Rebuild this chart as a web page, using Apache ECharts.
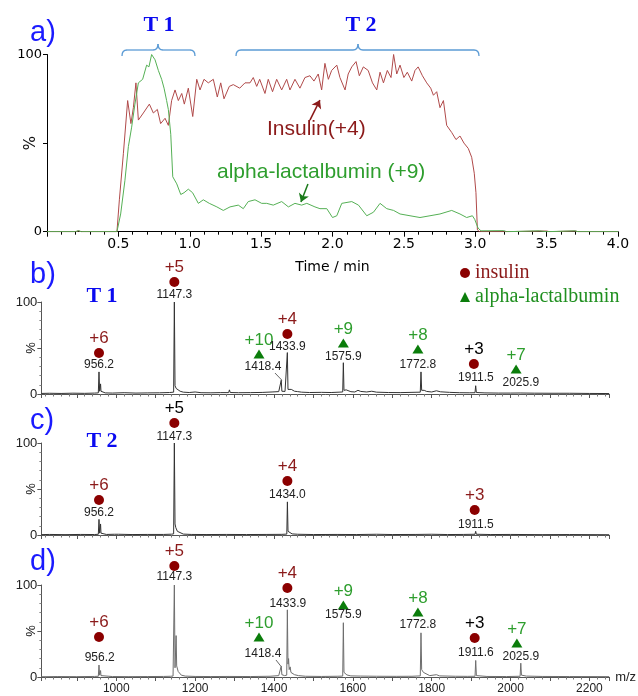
<!DOCTYPE html>
<html>
<head>
<meta charset="utf-8">
<script src="https://cdn.jsdelivr.net/npm/echarts@6.0.0/dist/echarts.min.js"></script>
<style>
html, body { margin: 0; padding: 0; background: #fff; }
#main { width: 638px; height: 696px; }
</style>
</head>
<body>
<div id="main"></div>
<script>
// a) extracted ion chromatograms, [time (min), %]
var insulinTrace = [[0,0],[0.1,0],[0.2,0],[0.22,0.5],[0.24,0],[0.3,0],[0.4,0],[0.49,0],
	[0.507,18],[0.535,44],[0.565,74],[0.588,61],[0.605,70],[0.623,84],[0.64,63],[0.675,67],[0.717,72],[0.745,67],
	[0.773,69],[0.796,61],[0.827,64],[0.85,60],[0.873,74],[0.897,80],[0.92,74],[0.944,78],[0.962,72],[0.99,81],
	[1.021,65],[1.049,86],[1.072,80],[1.1,86],[1.13,84],[1.165,86],[1.193,76],[1.217,84],[1.24,75],[1.277,82],
	[1.305,83],[1.35,81],[1.387,84],[1.422,84],[1.445,87],[1.469,82],[1.49,86],[1.527,78],[1.55,86],[1.58,79],
	[1.609,86],[1.644,80],[1.679,86],[1.702,80],[1.737,86],[1.772,81],[1.807,87],[1.842,88],[1.87,85],[1.9,89],
	[1.924,80],[1.947,95],[1.971,86],[1.994,91],[2.03,94],[2.052,87],[2.088,80],[2.11,89],[2.135,93],[2.165,96],
	[2.188,88],[2.216,93],[2.25,91],[2.28,84],[2.31,80],[2.333,90],[2.357,84],[2.384,91],[2.41,87],[2.428,100],
	[2.45,89],[2.473,94],[2.5,87],[2.524,90],[2.555,85],[2.578,91],[2.6,93],[2.63,88],[2.66,84],[2.688,81],
	[2.707,77],[2.73,79],[2.753,70],[2.777,74],[2.8,60],[2.835,56],[2.865,52],[2.893,54],[2.921,50],[2.951,47],
	[2.975,42],[2.993,33],[3.005,22],[3.015,1],[3.03,0],[3.2,0],[3.5,0.4],[3.52,0],[3.7,0.4],[3.72,0],[4.0,0]];
var lactalbuminTrace = [[0,0],[0.2,0],[0.22,0.6],[0.24,0],[0.49,0],[0.516,10],[0.546,29],[0.57,48],[0.593,59],
	[0.616,72],[0.64,84],[0.67,86],[0.698,94],[0.714,93],[0.733,100],[0.757,97],[0.78,91],[0.803,86],[0.82,81],
	[0.838,74],[0.85,69],[0.867,55],[0.881,31],[0.909,27],[0.937,21],[0.96,22],[0.99,24],[1.02,22],[1.06,16],
	[1.095,18],[1.137,16],[1.19,14],[1.235,12],[1.282,14],[1.34,15],[1.375,13],[1.41,17],[1.457,18],[1.504,16],
	[1.539,16],[1.585,15],[1.644,17],[1.691,14],[1.737,16],[1.784,15],[1.82,16],[1.877,14],[1.912,13],[1.96,13],
	[2.0,8],[2.03,9],[2.065,16],[2.135,17],[2.182,15],[2.24,9],[2.287,11],[2.333,16],[2.38,13],[2.428,12],
	[2.473,10],[2.543,9],[2.613,8],[2.683,9],[2.753,10],[2.835,12],[2.893,10],[2.94,8],[2.98,9],[2.996,7],
	[3.02,2],[3.04,0.5],[3.2,0.6],[3.22,0],[3.45,0.5],[3.5,0],[3.7,0.5],[3.72,0],[4,0]];
var arrowInsulin = [[1.842,63],[1.912,74.3]];
var arrowLact = [[1.828,26.9],[1.779,16.8]];

// b) c) d) mass spectra, [m/z, %]
var specT1 = [[810,0.6],[830,0.8],[860,0.6],[890,0.9],[920,0.7],[945,1.0],
	[954.5,1.2],[956.2,24],[957.8,3],[959.4,2.5],[960.2,11],[961.2,3],[965,2],[972,1.2],
	[990,1.0],[1020,1.4],[1050,1.0],[1080,1.2],[1110,1.3],[1135,1.6],
	[1145.5,2],[1147.3,100],[1149,9],[1152,6],[1156,4],[1162,3],[1170,2],[1185,1.6],
	[1200,2.2],[1215,1.4],[1240,1.3],[1265,1.5],[1285,1.5],[1287,4.5],[1289,1.6],[1310,1.4],[1340,1.5],[1370,1.7],[1395,2.2],
	[1412,2.6],[1416.8,3],[1418.4,15],[1420,3],[1428,2.8],
	[1432.3,3],[1433.9,45],[1435.5,5],[1437,6],[1440,4.5],[1444,5],[1447,3.5],[1452,3],[1460,2.6],[1470,2],
	[1490,1.6],[1520,1.8],[1545,1.6],[1565,2],
	[1574.3,2.2],[1575.9,34],[1577.5,4],[1580,3.5],[1583,4.5],[1587,3],[1595,2.5],
	[1605,2.2],[1613,4],[1620,2.8],[1635,2.2],[1648,3],[1660,2],[1690,1.6],[1720,1.5],[1750,1.8],
	[1771,2],[1772.8,24],[1774.5,4],[1777,3.5],[1781,4],[1787,2.8],[1800,2.2],[1812,3.5],[1822,2.4],[1845,1.8],[1870,1.4],[1895,1.3],
	[1909.8,1.4],[1911.5,9],[1913.2,1.6],[1935,1.2],[1970,1.0],[2000,1.0],
	[2024.2,1.1],[2025.9,2.5],[2027.6,1.2],[2060,0.9],[2100,0.8],[2150,0.8],[2200,0.6],[2250,0.5]];
var specT2 = [[810,0.4],[830,0.6],[870,0.4],[910,0.6],[945,0.5],
	[954.5,0.8],[956.2,17],[957.8,2],[959.4,1.5],[960.2,12],[961.2,2],[965,1],[975,0.6],
	[995,0.8],[1000,1.8],[1006,0.8],[1040,0.5],[1080,0.6],[1120,0.6],[1140,0.9],
	[1145.5,1.2],[1147.3,100],[1149,12],[1151,8],[1155,4],[1160,2],[1170,1],[1190,0.6],
	[1230,0.5],[1280,0.6],[1330,0.5],[1380,0.6],[1420,0.7],
	[1432.5,1],[1434.0,36],[1435.6,4],[1437,5],[1440,2.5],[1446,1.2],[1460,0.8],
	[1500,0.5],[1560,0.6],[1610,0.5],[1660,0.8],[1700,0.5],[1760,0.6],[1800,0.8],[1840,0.5],[1880,0.6],
	[1909.8,0.8],[1911.5,4],[1913.2,0.8],[1950,0.5],[2000,0.6],[2080,0.4],[2150,0.5],[2250,0.3]];
var specAll = [[810,0.3],[850,0.5],[900,0.4],[945,0.6],
	[954.5,0.8],[956.2,13],[957.8,2],[959.4,1.5],[960.2,7],[961.2,1.5],[966,0.8],[990,0.5],
	[1030,0.4],[1080,0.5],[1120,0.6],[1138,0.8],[1142,1.8],[1144,1],
	[1145.6,1.2],[1147.3,100],[1149,10],[1150.5,8],[1151.8,45],[1153.2,12],[1155.5,14],[1157,6],[1160,4],[1165,2],[1175,1],[1200,0.6],
	[1240,0.5],[1286,0.6],[1288,2],[1290,0.6],[1340,0.5],[1390,0.8],[1412,1.5],
	[1416.8,2],[1418.4,12],[1420,2.5],[1427,1.5],
	[1432.3,2],[1433.9,73],[1435.5,14],[1437,20],[1438.5,8],[1441,11],[1443,5],[1447,4],[1452,2.5],[1462,1.5],[1480,0.8],
	[1520,0.6],[1560,0.8],[1574.3,1],[1575.9,59],[1577.5,5],[1580,4],[1585,2.2],[1595,1.2],[1620,1],[1660,0.8],[1710,0.7],[1750,0.8],
	[1771,1.2],[1772.8,48],[1774.5,8],[1777,9],[1779,5],[1784,3],[1795,1.5],[1812,2.5],[1820,1.2],[1860,0.8],[1890,0.7],
	[1909.9,0.8],[1911.6,18],[1913.3,1.5],[1916,1.2],[1940,0.6],[1990,0.5],
	[2024.2,0.8],[2025.9,15],[2027.6,2],[2031,2.2],[2040,1],[2080,0.6],[2150,0.5],[2250,0.4]];

// peak annotations: [m/z, %, text]
var insulinT1 = [[956.2,44.6,'+6'],[1147.3,121.7,'+5'],[1433.9,65.2,'+4'],[1907,32.6,'+3']];
var lactT1 = [[1362,43.5,'+10'],[1575.9,55.4,'+9'],[1765,48.9,'+8'],[2014,27.2,'+7']];
var massT1 = [[956.2,31.5,'956.2'],[1147.3,107.6,'1147.3'],[1372,29.3,'1418.4'],[1433.9,51.1,'1433.9'],
	[1575.9,40.2,'1575.9'],[1765,31.5,'1772.8'],[1912,17.4,'1911.5'],[2026,12,'2025.9']];
var insulinT2 = [[956.2,38,'+6'],[1147.3,121.7,'+5'],[1434.0,58.7,'+4'],[1909,27.2,'+3']];
var massT2 = [[956.2,23.9,'956.2'],[1147.3,106.5,'1147.3'],[1434.0,43.5,'1434.0'],[1912,10.9,'1911.5']];
var insulinAll = [[956.2,43.5,'+6'],[1147.3,120.7,'+5'],[1433.9,96.7,'+4'],[1909,42.4,'+3']];
var lactAll = [[1362,43.5,'+10'],[1575.9,78.3,'+9'],[1765,70.7,'+8'],[2016,37,'+7']];
var massAll = [[958,20.7,'956.2'],[1147.3,108.7,'1147.3'],[1372,25,'1418.4'],[1435,79.3,'1433.9'],
	[1575.9,67.4,'1575.9'],[1765,56.5,'1772.8'],[1912,26.1,'1911.6'],[2026,21.7,'2025.9']];
var leaderT1 = [[1402.5,22.8],[1420,15]];
var leaderAll = [[1405,18.5],[1417,12]];

var SANS = '"Liberation Sans", Arial, sans-serif';
var DEJAVU = '"DejaVu Sans", sans-serif';
var SERIF = '"Liberation Serif", "Times New Roman", serif';
var RED = '#8b1a1a', GREEN = '#2e9e2e';
// charge states printed in black in each panel
var neutralCharge = { T1: '+3', T2: '+5', All: '+3' };

function specGrid(top) {
	return { left: 41.35, top: top, width: 567.8, height: 92, outerBoundsMode: 'none' };
}

function specX(i, labels) {
	return {
		gridIndex: i, type: 'value', min: 810, max: 2250, splitNumber: 14,
		name: labels ? 'm/z' : '', nameLocation: 'end', nameGap: 6,
		nameTextStyle: { fontFamily: SANS, fontSize: 13, color: '#222' },
		axisLine: { lineStyle: { color: '#555', width: 1 } },
		axisTick: { length: 4, lineStyle: { color: '#555' } },
		minorTick: { show: true, splitNumber: 5, length: 2.5, lineStyle: { color: '#777' } },
		splitLine: { show: false },
		axisLabel: {
			show: labels, margin: 6, fontFamily: SANS, fontSize: 12, color: '#222',
			formatter: function (v) { return v % 200 === 0 ? v : ''; }
		}
	};
}

function specY(i) {
	return {
		gridIndex: i, type: 'value', min: 0, max: 100, interval: 50,
		axisLine: { show: true, lineStyle: { color: '#555' } },
		axisTick: { show: true, length: 4, lineStyle: { color: '#555' } },
		minorTick: { show: true, splitNumber: 5, length: 2, lineStyle: { color: '#888' } },
		splitLine: { show: false },
		axisLabel: {
			margin: 4, fontFamily: SANS, fontSize: 13, color: '#222',
			formatter: function (v) { return v === 50 ? '' : v; }
		}
	};
}

function chargeSeries(name, arr, panel, idx, symbol, size, color, textColor) {
	return {
		type: 'scatter', name: name, xAxisIndex: idx, yAxisIndex: idx,
		symbol: symbol, symbolSize: size, clip: false, silent: true,
		itemStyle: { color: color, opacity: 1 },
		label: {
			show: true, position: 'top', distance: 1, fontFamily: SANS, fontSize: 17,
			formatter: function (p) { return p.value[2]; }
		},
		data: arr.map(function (d) {
			return { value: d, label: { color: neutralCharge[panel] === d[2] ? '#000' : textColor } };
		})
	};
}

function massSeries(arr, idx) {
	return {
		type: 'scatter', xAxisIndex: idx, yAxisIndex: idx, symbolSize: 1, clip: false, silent: true,
		itemStyle: { color: 'rgba(0,0,0,0)', opacity: 1 },
		label: {
			show: true, position: 'inside', fontFamily: SANS, fontSize: 12, color: '#222',
			formatter: function (p) { return p.value[2]; }
		},
		data: arr
	};
}

function spectrum(data, idx, color, leader) {
	var s = {
		type: 'line', xAxisIndex: idx, yAxisIndex: idx, data: data, showSymbol: false, silent: true,
		lineStyle: { color: color, width: 1 }
	};
	if (leader) {
		s.markLine = {
			silent: true, symbol: ['none', 'none'], label: { show: false },
			lineStyle: { color: '#666', width: 1, type: 'solid' },
			data: [[{ coord: leader[0] }, { coord: leader[1] }]]
		};
	}
	return s;
}

function arrow(pts, color) {
	return {
		silent: true, symbol: ['none', 'arrow'], symbolSize: 8, label: { show: false },
		lineStyle: { color: color, width: 1.5, type: 'solid' },
		data: [[{ coord: pts[0] }, { coord: pts[1] }]]
	};
}

function panelText(x, y, txt) {
	return { type: 'text', x: x, y: y, style: { text: txt, font: '29px ' + SANS, fill: '#1a1aff', verticalAlign: 'middle' } };
}
function bigT(x, y, txt) {
	return { type: 'text', x: x, y: y, style: { text: txt, font: 'bold 22px ' + SERIF, fill: '#0a0af0', align: 'center', verticalAlign: 'middle' } };
}
// the rotated "%" beside each y axis
function pctName(y, font) {
	return { type: 'text', x: 31, y: y, rotation: Math.PI / 2,
		style: { text: '%', font: font, fill: '#111', align: 'center', verticalAlign: 'middle' } };
}

// curly bracket over a time window, built from curves and lines
function bracket(x1, xc, x2) {
	var st = { fill: 'none', stroke: '#5b9bd5', lineWidth: 1.3 };
	var y = 50, e = 56, p = 44;
	function curve(a, b, c, d, cx, cy) {
		return { type: 'bezierCurve', shape: { x1: a, y1: b, x2: c, y2: d, cpx1: cx, cpy1: cy }, style: st };
	}
	function seg(a, c) {
		return { type: 'line', shape: { x1: a, y1: y, x2: c, y2: y }, style: st };
	}
	return [
		curve(x1, e, x1 + 5, y, x1, y), seg(x1 + 5, xc - 5),
		curve(xc - 5, y, xc, p, xc, y), curve(xc, p, xc + 5, y, xc, y),
		seg(xc + 5, x2 - 5), curve(x2 - 5, y, x2, e, x2, y)
	];
}

var graphics = [
	panelText(30, 33, 'a)'), panelText(30, 275, 'b)'), panelText(30, 421, 'c)'), panelText(30, 562, 'd)'),
	bigT(159, 25, 'T 1'), bigT(361, 25, 'T 2'), bigT(102, 296, 'T 1'), bigT(102, 441, 'T 2'),
	pctName(143, '15px ' + DEJAVU), pctName(348, '13px ' + SANS), pctName(489, '13px ' + SANS), pctName(631, '13px ' + SANS),
	{ type: 'text', x: 267, y: 129, style: { text: 'Insulin(+4)', font: '21px ' + SANS, fill: RED, verticalAlign: 'middle' } },
	{ type: 'text', x: 217, y: 172, style: { text: 'alpha-lactalbumin (+9)', font: '21px ' + SANS, fill: GREEN, verticalAlign: 'middle' } }
].concat(bracket(122, 158, 195), bracket(236, 358, 479));

var option = {
	animation: false,
	grid: [
		{ left: 47, top: 54.5, width: 571, height: 177.2, outerBoundsMode: 'none' },
		specGrid(302), specGrid(443), specGrid(585)
	],
	xAxis: [{
		gridIndex: 0, type: 'value', min: 0, max: 4, interval: 0.5,
		name: 'Time / min', nameLocation: 'middle', nameGap: 29,
		nameTextStyle: { fontFamily: DEJAVU, fontSize: 14, color: '#000' },
		axisLine: { lineStyle: { color: '#000' } },
		axisTick: { length: 5, lineStyle: { color: '#000' } },
		minorTick: { show: true, splitNumber: 5, length: 3, lineStyle: { color: '#000' } },
		splitLine: { show: false },
		axisLabel: {
			margin: 6, fontFamily: DEJAVU, fontSize: 14, color: '#000',
			formatter: function (v) { return v === 0 ? '' : v.toFixed(1); }
		}
	}, specX(1, false), specX(2, false), specX(3, true)],
	yAxis: [{
		gridIndex: 0, type: 'value', min: 0, max: 100, interval: 50,
		axisLine: { show: true, lineStyle: { color: '#000' } },
		axisTick: { show: true, length: 4, lineStyle: { color: '#000' } },
		splitLine: { show: false },
		axisLabel: {
			margin: 5, fontFamily: DEJAVU, fontSize: 13, color: '#000',
			formatter: function (v) { return v === 50 ? '' : v; }
		}
	}, specY(1), specY(2), specY(3)],
	legend: {
		left: 455, top: 258, orient: 'vertical', itemGap: 4, itemWidth: 10, itemHeight: 10,
		selectedMode: false,
		textStyle: { fontFamily: SERIF, fontSize: 20 },
		data: [
			{ name: 'insulin', icon: 'circle', textStyle: { color: RED } },
			{ name: 'alpha-lactalbumin', icon: 'triangle', textStyle: { color: '#1f8f1f' } }
		]
	},
	graphic: graphics,
	series: [
		{ type: 'line', xAxisIndex: 0, yAxisIndex: 0, data: insulinTrace, showSymbol: false, silent: true,
			lineStyle: { color: '#b04a4a', width: 1 }, markLine: arrow(arrowInsulin, RED) },
		{ type: 'line', xAxisIndex: 0, yAxisIndex: 0, data: lactalbuminTrace, showSymbol: false, silent: true,
			lineStyle: { color: '#55b055', width: 1 }, markLine: arrow(arrowLact, '#1a7a1a') },
		spectrum(specT1, 1, '#333', leaderT1),
		spectrum(specT2, 2, '#333', null),
		spectrum(specAll, 3, '#6e6e6e', leaderAll),
		chargeSeries('insulin', insulinT1, 'T1', 1, 'circle', 10, '#8b0000', RED),
		chargeSeries('alpha-lactalbumin', lactT1, 'T1', 1, 'triangle', [11, 9], '#0b7d0b', GREEN),
		massSeries(massT1, 1),
		chargeSeries('insulin', insulinT2, 'T2', 2, 'circle', 10, '#8b0000', RED),
		massSeries(massT2, 2),
		chargeSeries('insulin', insulinAll, 'All', 3, 'circle', 10, '#8b0000', RED),
		chargeSeries('alpha-lactalbumin', lactAll, 'All', 3, 'triangle', [11, 9], '#0b7d0b', GREEN),
		massSeries(massAll, 3)
	]
};

var chart = echarts.init(document.getElementById('main'));
chart.setOption(option);
</script>
</body>
</html>
